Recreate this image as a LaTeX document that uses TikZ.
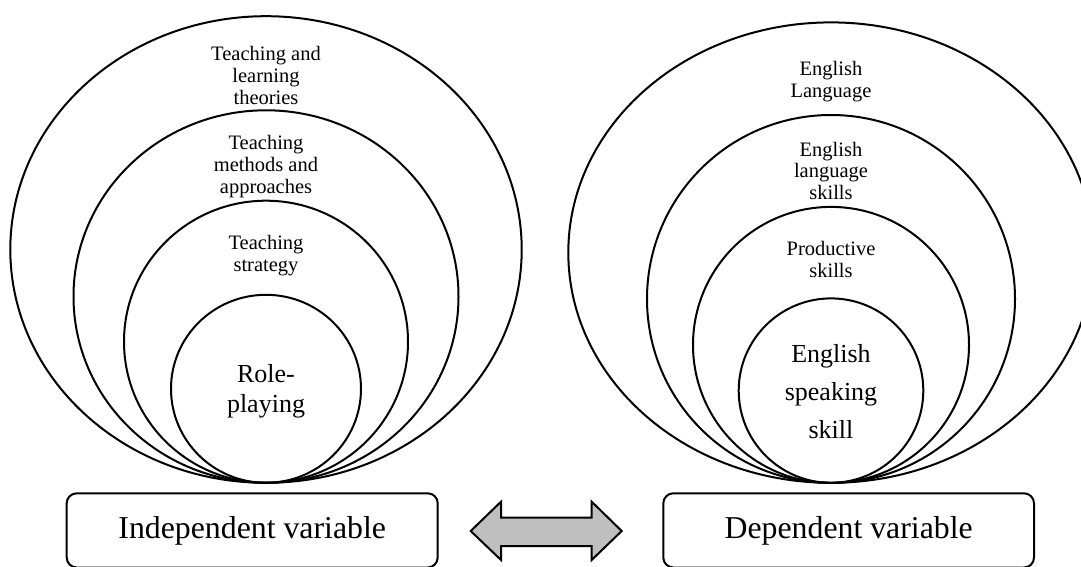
\documentclass[tikz,border=0pt]{standalone}
\usepackage{fontspec}
\setmainfont{Liberation Serif}
\begin{document}
\begin{tikzpicture}[x=1pt,y=-1pt,
  ring/.style={line width=2pt},
  smalltxt/.style={font=\fontsize{20.5}{21.8}\selectfont, align=center, inner sep=0pt},
  bigtxt/.style={font=\fontsize{26}{29.7}\selectfont, align=center, inner sep=0pt},
  bigtxtwide/.style={font=\fontsize{26}{38}\selectfont, align=center, inner sep=0pt},
  varbox/.style={draw, line width=2pt, rounded corners=10pt, minimum height=74.2pt, inner sep=0pt, font=\fontsize{31.8}{36}\selectfont},
  dblarrow/.style={draw, line width=2pt, fill=black!25, line join=miter}
]
\useasboundingbox (0,0) rectangle (1081,567);
\clip (0,0) rectangle (1081,567);

% left group
\draw[ring] (266,249.5) ellipse [x radius=255.7pt, y radius=233.3pt];
\draw[ring] (266,296.5) ellipse [x radius=192.5pt, y radius=186.2pt];
\draw[ring] (266,341.7) ellipse [x radius=142pt, y radius=141pt];
\draw[ring] (266,388.8) ellipse [x radius=95pt, y radius=94pt];

\node[smalltxt] (l1) at (266,75.5) {Teaching and\\learning\\theories};
\node[smalltxt] (l2) at (266,166.3) {Teaching\\methods and\\approaches};
\node[smalltxt] (l3) at (266,255.2) {Teaching\\strategy};
\node[bigtxt] (l4) at (266,391) {Role-\\playing};

% right group
\draw[ring] (831,252.6) ellipse [x radius=262.7pt, y radius=230.2pt];
\draw[ring] (831,298.9) ellipse [x radius=184pt, y radius=183.9pt];
\draw[ring] (831,344.9) ellipse [x radius=138pt, y radius=138pt];
\draw[ring] (831,390.6) ellipse [x radius=92.3pt, y radius=92.2pt];

\node[smalltxt] (r1) at (831,81.4) {English\\Language};
\node[smalltxt] (r2) at (831,170.9) {English\\language\\skills};
\node[smalltxt] (r3) at (831,259.3) {Productive\\skills};
\node[bigtxtwide] (r4) at (831,391.3) {English\\speaking\\skill};

% boxes
\node[varbox, minimum width=371pt] (iv) at (252.2,530.4) {Independent variable};
\node[varbox, minimum width=370.7pt] (dv) at (848.65,530.4) {Dependent variable};

% double arrow
\draw[dblarrow] (470.7,531) -- (501,501.7) -- (501,517.7) -- (591.7,517.7) -- (591.7,501.7)
  -- (621.7,531) -- (591.7,560) -- (591.7,546) -- (501,546) -- (501,560) -- cycle;
\end{tikzpicture}
\end{document}
